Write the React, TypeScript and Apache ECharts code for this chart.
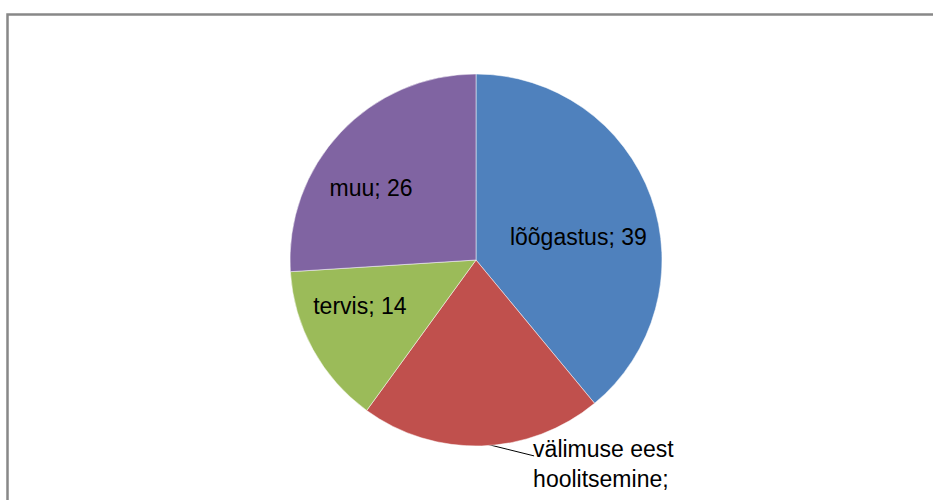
import React, { useEffect, useRef } from "react";
import * as echarts from "echarts";

const categories = ["lõõgastus", "välimuse eest hoolitsemine", "tervis", "muu"];
const labelTexts = ["lõõgastus; 39", "välimuse eest\nhoolitsemine;\n21", "tervis; 14", "muu; 26"];
const values = [39, 21, 14, 26];
const colors = ["#4F81BD", "#C0504D", "#9BBB59", "#8064A2"];
const labelOffsets = [
  [12, 10],
  [-4, 25],
  [-32, 0],
  [-35, -6],
];

const CX = 476;
const CY = 260;
const R = 186;

export default function App() {
  const ref = useRef<HTMLDivElement>(null);
  useEffect(() => {
    if (!ref.current) return;
    const chart = echarts.init(ref.current, undefined, { renderer: "svg" });
    const total = values.reduce((a, b) => a + b, 0);
    const midAngles: number[] = [];
    let acc = 0;
    values.forEach((v) => {
      midAngles.push(((acc + v / 2) / total) * Math.PI * 2);
      acc += v;
    });
    chart.setOption({
      animation: false,
      backgroundColor: "#ffffff",
      textStyle: { fontFamily: "Liberation Sans" },
      graphic: [
        {
          type: "rect",
          shape: { x: 7.5, y: 14.5, width: 1000, height: 600 },
          style: { fill: "none", stroke: "#888888", lineWidth: 2.5 },
          z: 10,
        },
      ],
      series: [
        {
          type: "pie",
          center: [CX, CY],
          radius: R,
          startAngle: 90,
          clockwise: true,
          avoidLabelOverlap: false,
          itemStyle: { borderColor: "#ffffff", borderWidth: 0.5 },
          label: {
            show: true,
            position: "inside",
            color: "#000000",
            fontSize: 23,
            lineHeight: 30,
            fontFamily: "Liberation Sans",
            formatter: (p: any) => labelTexts[p.dataIndex],
          },
          labelLine: { show: false },
          labelLayout: (p: any) => {
            const i = p.dataIndex;
            const o = labelOffsets[i];
            const res: any = { dx: o[0], dy: o[1] };
            if (i === 1) {
              const a = midAngles[i];
              const sx = CX + (R - 3) * Math.sin(a);
              const sy = CY - (R - 3) * Math.cos(a);
              const ex = p.labelRect.x + o[0] + 1;
              const ey = p.labelRect.y + o[1] + 22;
              res.labelLinePoints = [
                [sx, sy],
                [(sx + ex) / 2, (sy + ey) / 2],
                [ex, ey],
              ];
            }
            return res;
          },
          data: categories.map((c, i) => {
            const d: any = { name: c, value: values[i], itemStyle: { color: colors[i] } };
            if (i === 1) {
              d.label = { position: "outside", align: "left", alignTo: "none" };
              d.labelLine = { show: true, length: 8, length2: 50, lineStyle: { color: "#000000", width: 1 } };
            }
            return d;
          }),
        },
      ],
    });
    return () => chart.dispose();
  }, []);
  return <div ref={ref} style={{ position: "fixed", left: 0, top: 0, width: 933, height: 500 }} />;
}
